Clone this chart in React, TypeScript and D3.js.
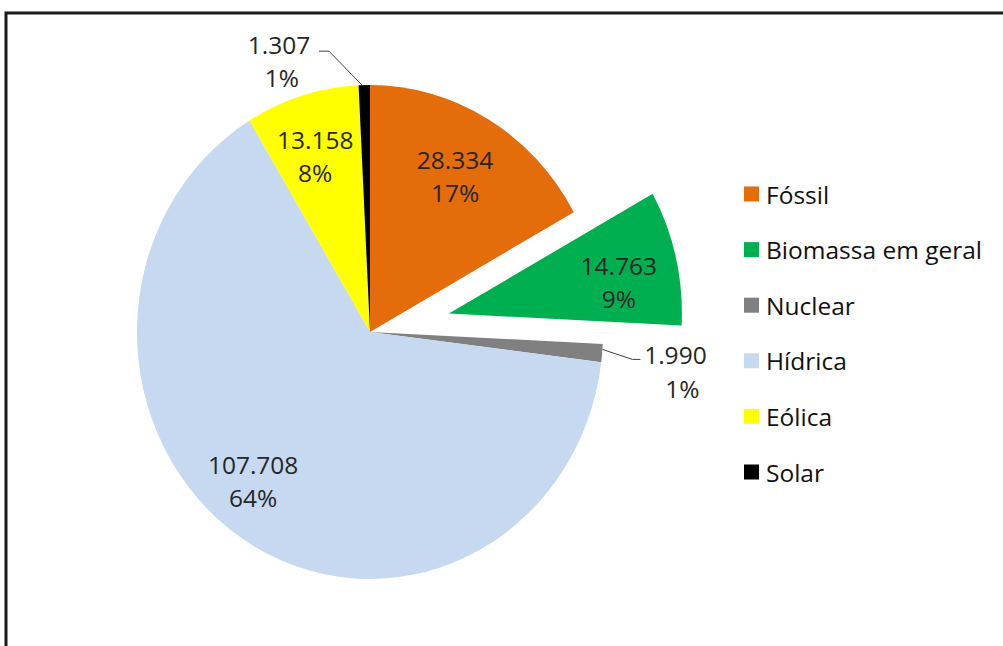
import React from "react";
import * as d3 from "d3";

const categories = ["Fóssil", "Biomassa em geral", "Nuclear", "Hídrica", "Eólica", "Solar"];
const values = [28334, 14763, 1990, 107708, 13158, 1307];
const colors = ["#E46C0A", "#00B050", "#808080", "#C6D9F1", "#FFFF00", "#000000"];
const exploded = [false, true, false, false, false, false];
const outsideLabel = [false, false, true, false, false, true];
// label layout tweaks (best-fit placement): angle offset in degrees, radius factor
const labelAngleOffset = [-0.4, 3.3, 0, 6.7, -1.3, 0];
const labelRadiusFactor = [0.728, 0.74, 0, 0.786, 0.75, 0];

const W = 1003;
const H = 646;
const cx = 370;
const cy = 332;
const R = 233;
const SY = 1.06;
const EXPLODE = 81;
const FONT = "'Open Sans', 'Noto Sans', sans-serif";
const FS = 24.5;

const locale = d3.formatLocale({ decimal: ",", thousands: ".", grouping: [3], currency: ["", ""] });
const fmtNum = (v: number) => locale.format(",")(v);

export default function App() {
  const total = d3.sum(values);
  const pie = d3.pie<number>().sort(null).value((d) => d)(values);
  const arc = d3.arc<d3.PieArcDatum<number>>().innerRadius(0).outerRadius(R);
  const pt = (a: number, r: number): [number, number] => [Math.sin(a) * r, -Math.cos(a) * r * SY];
  const offsetOf = (i: number, mid: number): [number, number] =>
    exploded[i] ? [Math.sin(mid) * EXPLODE, -Math.cos(mid) * EXPLODE * 1.0] : [0, 0];

  return (
    <svg width={W} height={H} style={{ position: "absolute", left: 0, top: 0, background: "#fff" }}>
      <rect x={6} y={13} width={1100} height={800} fill="#fff" stroke="#1a1a1a" strokeWidth={3} />
      {pie.map((p, i) => {
        const mid = (p.startAngle + p.endAngle) / 2;
        const [ox, oy] = offsetOf(i, mid);
        return (
          <g key={categories[i]} transform={`translate(${cx + ox},${cy + oy}) scale(1,${SY})`}>
            <path d={arc(p) || ""} fill={colors[i]} />
          </g>
        );
      })}
      {pie.map((p, i) => {
        const mid = (p.startAngle + p.endAngle) / 2;
        const pct = Math.round((values[i] / total) * 100) + "%";
        const num = fmtNum(values[i]);
        if (outsideLabel[i]) {
          const [ex, ey] = pt(p.startAngle + (p.endAngle - p.startAngle) * 0.3, R);
          const x0 = cx + ex, y0 = cy + ey;
          if (i === 5) {
            return (
              <g key={"l" + i} fill="#262626" fontFamily={FONT} fontSize={FS}>
                <polyline points={`${x0},${y0} ${x0 - 33},${y0 - 34} ${x0 - 43},${y0 - 34}`} fill="none" stroke="#404040" strokeWidth={1} />
                <text x={x0 - 83} y={y0 - 41} textAnchor="middle" dominantBaseline="central">{num}</text>
                <text x={x0 - 80} y={y0 - 8} textAnchor="middle" dominantBaseline="central">{pct}</text>
              </g>
            );
          }
          return (
            <g key={"l" + i} fill="#262626" fontFamily={FONT} fontSize={FS}>
              <polyline points={`${x0},${y0} ${x0 + 30},${y0 + 10} ${x0 + 38},${y0 + 10}`} fill="none" stroke="#404040" strokeWidth={1} />
              <text x={x0 + 73} y={y0 + 5} textAnchor="middle" dominantBaseline="central">{num}</text>
              <text x={x0 + 80} y={y0 + 39} textAnchor="middle" dominantBaseline="central">{pct}</text>
            </g>
          );
        }
        const [ox, oy] = offsetOf(i, mid);
        const a = mid + (labelAngleOffset[i] * Math.PI) / 180;
        const [lx, ly] = pt(a, R * labelRadiusFactor[i]);
        const x = cx + ox + lx, y = cy + oy + ly;
        return (
          <g key={"l" + i} fill="#262626" fontFamily={FONT} fontSize={FS}>
            <text x={x} y={y - 16.5} textAnchor="middle" dominantBaseline="central">{num}</text>
            <text x={x} y={y + 16.5} textAnchor="middle" dominantBaseline="central">{pct}</text>
          </g>
        );
      })}
      {categories.map((c, i) => (
        <g key={"lg" + i} transform={`translate(744,${194 + i * 55.6})`}>
          <rect x={0} y={-7.5} width={15} height={15} fill={colors[i]} />
          <text x={22} y={0} dominantBaseline="central" fontFamily={FONT} fontSize={FS} fill="#111">{c}</text>
        </g>
      ))}
    </svg>
  );
}
